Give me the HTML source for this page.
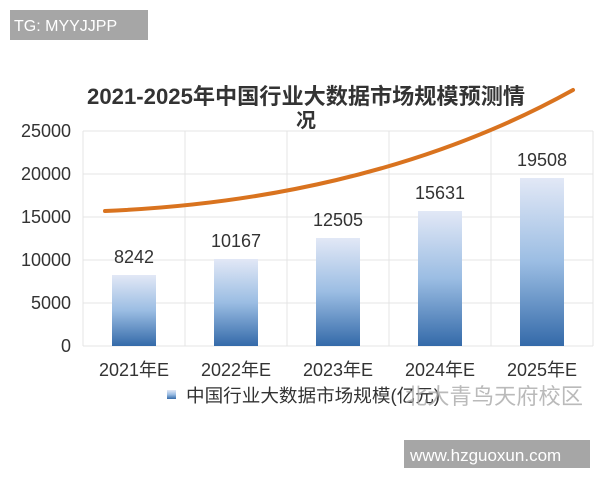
<!DOCTYPE html><html><head><meta charset="utf-8"><style>
body{margin:0;width:600px;height:480px;background:#fff;overflow:hidden;font-family:"Liberation Sans","Noto Sans CJK SC",sans-serif}
</style></head><body>
<svg width="600" height="480" viewBox="0 0 600 480" style="position:absolute;left:0;top:0" font-family="Liberation Sans, Noto Sans CJK SC, sans-serif">
<defs><linearGradient id="g" x1="0" y1="0" x2="0" y2="1"><stop offset="0" stop-color="#e2e8f6"/><stop offset="0.5" stop-color="#9bbde3"/><stop offset="1" stop-color="#346aa9"/></linearGradient></defs>
<g stroke="#e4e4e4" stroke-width="1">
<line x1="83" y1="131" x2="593" y2="131"/><line x1="83" y1="174" x2="593" y2="174"/><line x1="83" y1="217" x2="593" y2="217"/><line x1="83" y1="260" x2="593" y2="260"/><line x1="83" y1="303" x2="593" y2="303"/><line x1="83" y1="346" x2="593" y2="346"/>
<line x1="83" y1="131" x2="83" y2="346"/><line x1="185" y1="131" x2="185" y2="346"/><line x1="287" y1="131" x2="287" y2="346"/><line x1="389" y1="131" x2="389" y2="346"/><line x1="491" y1="131" x2="491" y2="346"/><line x1="593" y1="131" x2="593" y2="346"/>
</g>
<g fill="url(#g)">
<rect x="112" y="275" width="44" height="71"/><rect x="214" y="259" width="44" height="87"/><rect x="316" y="238" width="44" height="108"/><rect x="418" y="211" width="44" height="135"/><rect x="520" y="178" width="44" height="168"/>
</g>
<g font-size="18" fill="#333" text-anchor="end">
<text x="71" y="137">25000</text><text x="71" y="180">20000</text><text x="71" y="223">15000</text><text x="71" y="266">10000</text><text x="71" y="309">5000</text><text x="71" y="352">0</text>
</g>
<g font-size="18" fill="#333" text-anchor="middle">
<text x="134" y="263">8242</text><text x="236" y="247">10167</text><text x="338" y="226">12505</text><text x="440" y="199">15631</text><text x="542" y="166">19508</text>
<text x="134" y="376">2021年E</text><text x="236" y="376">2022年E</text><text x="338" y="376">2023年E</text><text x="440" y="376">2024年E</text><text x="542" y="376">2025年E</text>
</g>
<path d="M105,211 C250,205 420,175 573,90" fill="none" stroke="#d9731f" stroke-width="4" stroke-linecap="round"/>
<text x="306" y="104" font-size="22" font-weight="bold" fill="#333" text-anchor="middle" textLength="438" lengthAdjust="spacingAndGlyphs">2021-2025年中国行业大数据市场规模预测情</text>
<text x="306" y="127" font-size="20" font-weight="bold" fill="#333" text-anchor="middle">况</text>
<rect x="167" y="390" width="9" height="9" fill="url(#g)"/>
<text x="186" y="402" font-size="18" fill="#333" textLength="254" lengthAdjust="spacingAndGlyphs">中国行业大数据市场规模(亿元)</text>
<text x="405" y="404" font-size="22" fill="#aaa" opacity="0.8" textLength="178" lengthAdjust="spacingAndGlyphs">北大青鸟天府校区</text>
<rect x="10" y="10" width="138" height="30" fill="#a6a6a6"/>
<text x="14" y="31" font-size="16" fill="#fff">TG: MYYJJPP</text>
<rect x="404" y="440" width="186" height="28" fill="#a6a6a6"/>
<text x="410" y="461" font-size="17" fill="#fff">www.hzguoxun.com</text>
</svg>
</body></html>
